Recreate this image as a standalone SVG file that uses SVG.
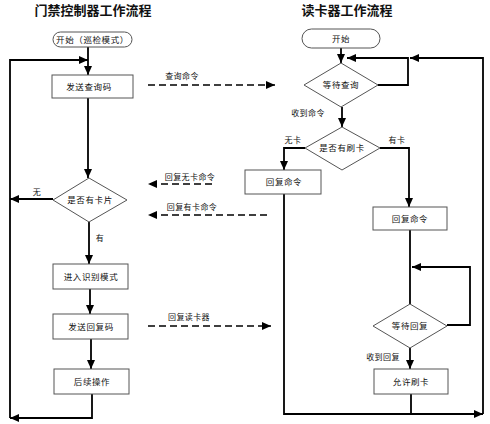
<svg xmlns="http://www.w3.org/2000/svg" width="490" height="424" viewBox="0 0 490 424">
<style>
text{font-family:"Noto Sans CJK SC","Noto Sans",sans-serif;fill:#111;text-anchor:middle}
.title{font-size:13px;font-weight:bold}
.nt{font-size:8.5px;letter-spacing:0.6px}
.lb{font-size:8px;letter-spacing:0.4px}
.box{fill:#fff;stroke:#555;stroke-width:1}
.flow{fill:none;stroke:#000;stroke-width:1.8}
.dash{fill:none;stroke:#000;stroke-width:1.3;stroke-dasharray:7 4}
</style>
<defs>
<marker id="ah" markerWidth="9" markerHeight="8" refX="9" refY="4" orient="auto" markerUnits="userSpaceOnUse"><path d="M0,0 L9,4 L0,8 z" fill="#000"/></marker>
</defs>
<rect width="490" height="424" fill="#fff"/>
<text class="title" x="93" y="15">门禁控制器工作流程</text>
<text class="title" x="347" y="15">读卡器工作流程</text>

<g id="connectors">
<path class="flow" d="M88,47 V75" marker-end="url(#ah)"/>
<path class="flow" d="M88,98 V178" marker-end="url(#ah)"/>
<path class="flow" d="M53,199 H10" marker-end="url(#ah)"/>
<path class="flow" d="M89,222 V264" marker-end="url(#ah)"/>
<path class="flow" d="M90,289 V314" marker-end="url(#ah)"/>
<path class="flow" d="M91,339 V369" marker-end="url(#ah)"/>
<path class="flow" d="M92,394 V418 H10" marker-end="url(#ah)"/>
<path class="flow" d="M10,418 V60 H88" marker-end="url(#ah)"/>

<path class="flow" d="M341,48 V63" marker-end="url(#ah)"/>
<path class="flow" d="M378,85 H408 V58 H347" marker-end="url(#ah)"/>
<path class="flow" d="M483,414 V58 H410" marker-end="url(#ah)"/>
<path class="flow" d="M342,107 V127" marker-end="url(#ah)"/>
<path class="flow" d="M305,148 H284 V170" marker-end="url(#ah)"/>
<path class="flow" d="M380,148 H409 V207" marker-end="url(#ah)"/>
<path class="flow" d="M284,194 V414 H483" marker-end="url(#ah)"/>
<path class="flow" d="M410,230 V304"/>
<path class="flow" d="M447,325 H470 V267 H412" marker-end="url(#ah)"/>
<path class="flow" d="M410,348 V369" marker-end="url(#ah)"/>
<path class="flow" d="M411,394 V414"/>

<path class="dash" d="M148,85 H275" marker-end="url(#ah)"/>
<path class="dash" d="M212,184 H148" marker-end="url(#ah)"/>
<path class="dash" d="M267,215 H148" marker-end="url(#ah)"/>
<path class="dash" d="M148,326 H271" marker-end="url(#ah)"/>

<text class="lb" x="182" y="79">查询命令</text>
<text class="lb" x="190" y="180">回复无卡命令</text>
<text class="lb" x="192" y="210">回复有卡命令</text>
<text class="lb" x="189" y="320">回复读卡器</text>
<text class="lb" x="37" y="195">无</text>
<text class="lb" x="100" y="241">有</text>
<text class="lb" x="308" y="116">收到命令</text>
<text class="lb" x="293" y="143">无卡</text>
<text class="lb" x="397" y="143">有卡</text>
<text class="lb" x="383" y="360">收到回复</text>
</g>

<g id="start-left"><rect class="box" x="53" y="32" width="79" height="15" rx="7.5"/><text class="nt" x="92.5" y="42.5">开始（巡检模式）</text></g>
<g id="send-query"><rect class="box" x="52" y="75" width="81" height="23"/><text class="nt" x="89" y="90">发送查询码</text></g>
<g id="has-card"><polygon class="box" points="89,178 127,200 89,222 53,200"/><text class="nt" x="90" y="203">是否有卡片</text></g>
<g id="enter-mode"><rect class="box" x="53" y="264" width="75" height="25"/><text class="nt" x="91" y="280">进入识别模式</text></g>
<g id="send-reply"><rect class="box" x="53" y="314" width="75" height="25"/><text class="nt" x="91" y="330">发送回复码</text></g>
<g id="follow-up"><rect class="box" x="54" y="369" width="75" height="25"/><text class="nt" x="92" y="385">后续操作</text></g>

<g id="start-right"><rect class="box" x="302" y="29" width="78" height="19" rx="9.5"/><text class="nt" x="341" y="42">开始</text></g>
<g id="wait-query"><polygon class="box" points="341,63 378,85 341,107 304,85"/><text class="nt" x="341" y="88">等待查询</text></g>
<g id="is-swiped"><polygon class="box" points="342,127 380,148 342,170 305,148"/><text class="nt" x="342" y="151">是否有刷卡</text></g>
<g id="reply-left"><rect class="box" x="245" y="170" width="76" height="24"/><text class="nt" x="284" y="185">回复命令</text></g>
<g id="reply-right"><rect class="box" x="373" y="207" width="74" height="23"/><text class="nt" x="410" y="222">回复命令</text></g>
<g id="wait-reply"><polygon class="box" points="410,304 447,326 410,348 373,326"/><text class="nt" x="410" y="329">等待回复</text></g>
<g id="allow-swipe"><rect class="box" x="374" y="369" width="74" height="25"/><text class="nt" x="411" y="385">允许刷卡</text></g>
</svg>
